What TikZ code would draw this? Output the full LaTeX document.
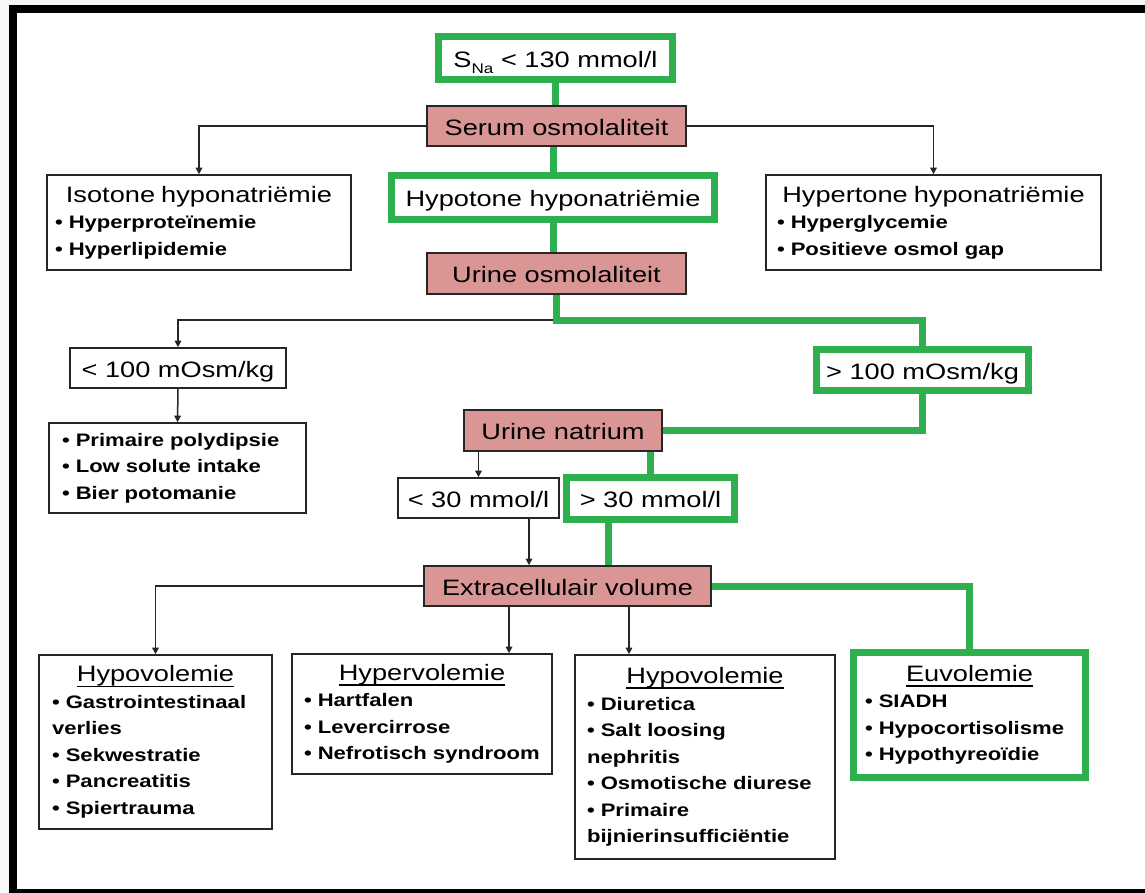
\documentclass[tikz,border=0pt]{standalone}
\usepackage{fontspec}
\setmainfont{Liberation Sans}[FakeStretch=1.22]
\usetikzlibrary{arrows.meta}
\definecolor{rozevul}{RGB}{217,150,148}
\definecolor{groenkleur}{RGB}{46,176,78}
\newcommand{\kop}{\mdseries\fontsize{22.3}{26.5}\selectfont}
\newcommand{\lijst}{\fontsize{18.1}{26.5}\selectfont\bfseries}
\newcommand{\ulined}[1]{\setbox0\hbox{#1}\rlap{\rule[-5.5pt]{\wd0}{1.8pt}}\box0}
\newcommand{\midden}[1]{\hskip0pt plus 1filll{#1}\hskip0pt plus 1filll\null}

\begin{document}
\begin{tikzpicture}[x=1pt, y=-1pt,
    kader/.style={draw=black!85, line width=1.6pt, fill=white, inner sep=3pt},
    roze/.style={draw=black!85, line width=1.6pt, fill=rozevul, inner sep=3pt},
    groenkader/.style={draw=groenkleur, line width=7pt, fill=white, inner sep=3pt},
    enkel/.style={font=\kop, text height=18pt, text depth=0pt},
    meer/.style={font=\lijst, align=left},
    pijl/.style={draw=black!85, line width=1.5pt, -{Triangle[width=6.5pt,length=6.5pt]}},
    groen/.style={draw=groenkleur, line width=7pt}]
    \useasboundingbox (0, 0) rectangle (1145, 892);
    \clip (0, 0) rectangle (1145, 892);
    % Draw the frame
    \fill [gray!6] (0, 0) rectangle (1145, 892);
    \draw [line width=8pt, fill=white] (13, 9) rectangle (1152, 893);
    % Top column
    \node [groenkader, enkel, minimum width=234pt, minimum height=43pt] (sna) at (555.5, 58)
        {S\raisebox{-6pt}{\fontsize{14}{14}\selectfont Na} < 130 mmol/l};
    \node [roze, enkel, minimum width=259pt, minimum height=40pt] (serum) at (556.5, 126) {Serum osmolaliteit};
    \node [groenkader, enkel, minimum width=323pt, minimum height=44pt] (hypo) at (553, 197.5) {Hypotone hyponatriëmie};
    \node [roze, enkel, minimum width=259pt, minimum height=41pt] (uosm) at (556.5, 273.5) {Urine osmolaliteit};
    % Side boxes of serum osmolaliteit
    \node [kader, meer, minimum width=304pt, minimum height=95pt, text width=288pt] (iso) at (199, 222.5)
        {\midden{\kop Isotone~hyponatriëmie}\\
         •~Hyperproteïnemie\\
         •~Hyperlipidemie};
    \node [kader, meer, minimum width=335pt, minimum height=95pt, text width=313pt] (hyper) at (933.5, 222.5)
        {\midden{\kop Hypertone~hyponatriëmie}\\
         •~Hyperglycemie\\
         •~Positieve~osmol~gap};
    % Urine osmolaliteit split
    \node [kader, enkel, minimum width=216pt, minimum height=40pt] (laag100) at (178, 368) {< 100 mOsm/kg};
    \node [groenkader, enkel, minimum width=212pt, minimum height=41pt] (hoog100) at (922.5, 370) {> 100 mOsm/kg};
    \node [kader, meer, minimum width=257pt, minimum height=90pt, text width=231pt] (polyd) at (177.5, 468)
        {•~Primaire~polydipsie\\
         •~Low~solute~intake\\
         •~Bier~potomanie};
    % Urine natrium split
    \node [roze, enkel, minimum width=198pt, minimum height=41pt] (natrium) at (563, 430.5) {Urine natrium};
    \node [kader, enkel, minimum width=161pt, minimum height=40pt] (laag30) at (478.5, 498) {< 30 mmol/l};
    \node [groenkader, enkel, minimum width=168pt, minimum height=42pt] (hoog30) at (650.5, 498.5) {> 30 mmol/l};
    \node [roze, enkel, minimum width=287pt, minimum height=40pt] (ecv) at (567.5, 586) {Extracellulair volume};
    % Bottom row
    \node [kader, meer, minimum width=233pt, minimum height=174pt, text width=207pt] (hypov1) at (155.5, 742)
        {\midden{\ulined{\kop Hypovolemie}}\\
         •~Gastrointestinaal\\
         verlies\\
         •~Sekwestratie\\
         •~Pancreatitis\\
         •~Spiertrauma};
    \node [kader, meer, minimum width=260pt, minimum height=120pt, text width=236pt] (hyperv) at (422, 714)
        {\midden{\ulined{\kop Hypervolemie}}\\
         •~Hartfalen\\
         •~Levercirrose\\
         •~Nefrotisch~syndroom};
    \node [kader, meer, minimum width=260pt, minimum height=204pt, text width=236pt] (hypov2) at (705, 757)
        {\midden{\ulined{\kop Hypovolemie}}\\
         •~Diuretica\\
         •~Salt~loosing\\
         nephritis\\
         •~Osmotische~diurese\\
         •~Primaire\\
         bijnierinsufficiëntie};
    \node [groenkader, meer, minimum width=232pt, minimum height=125pt, text width=209pt] (euvol) at (969.5, 715)
        {\midden{\ulined{\kop Euvolemie}}\\
         •~SIADH\\
         •~Hypocortisolisme\\
         •~Hypothyreoïdie};
    % Black arrows
    \coordinate (splits) at (556.5, 320);
    \coordinate (laag30ecv) at ([xshift=50.5pt]laag30.south);
    \coordinate (hoog30ecv) at ([xshift=-42.5pt]hoog30.south);
    \coordinate (ecvhyperv) at ([xshift=-58.5pt]ecv.south);
    \coordinate (ecvhypov) at ([xshift=61.5pt]ecv.south);
    \draw [pijl] (serum.west) -| (iso.north);
    \draw [pijl] (serum.east) -| (hyper.north);
    \draw [pijl] (splits) -| (laag100.north);
    \draw [pijl] (laag100.south) -- (polyd.north);
    \draw [pijl] (laag30.north |- natrium.south) -- (laag30.north);
    \draw [pijl] (laag30ecv) -- (laag30ecv |- ecv.north);
    \draw [pijl] (ecv.west) -| (hypov1.north);
    \draw [pijl] (ecvhyperv) -- (ecvhyperv |- hyperv.north);
    \draw [pijl] (ecvhypov) -- (ecvhypov |- hypov2.north);
    % Green path
    \draw [groen] (sna.south) -- (sna.south |- serum.north);
    \draw [groen] (hypo.north |- serum.south) -- (hypo.north);
    \draw [groen] (hypo.south) -- (hypo.south |- uosm.north);
    \draw [groen] (uosm.south) -- (splits) -| (hoog100.north);
    \draw [groen] (hoog100.south) |- (natrium.east);
    \draw [groen] (hoog30.north |- natrium.south) -- (hoog30.north);
    \draw [groen] (hoog30ecv) -- (hoog30ecv |- ecv.north);
    \draw [groen] (ecv.east) -| (euvol.north);
\end{tikzpicture}
\end{document}
